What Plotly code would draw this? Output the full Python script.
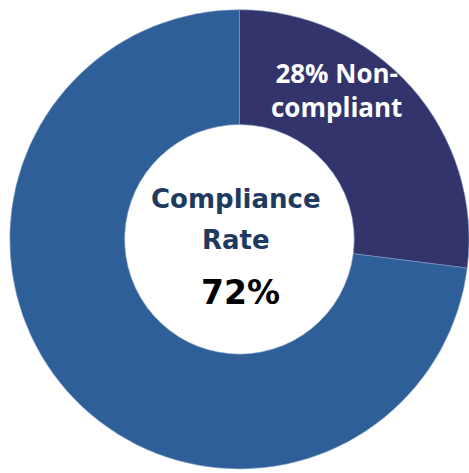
import plotly.graph_objects as go

labels = ["Non-compliant", "Compliant"]
values = [27, 73]
colors = ["#33346b", "#2e5f99"]
rate_label = "72%"
noncompliant_label = "28% Non-<br>compliant"
center_title_lines = ["Compliance", "Rate"]

fig = go.Figure(go.Pie(
    labels=labels,
    values=values,
    hole=0.5,
    sort=False,
    direction="clockwise",
    rotation=0,
    marker=dict(colors=colors, line=dict(color="#7f9cc4", width=0.6)),
    textinfo="none",
    hoverinfo="label+percent",
    showlegend=False,
    domain=dict(x=[0.021, 1.0], y=[0.004, 0.984]),
))

fig.add_annotation(x=336, y=90, xref="x", yref="y", text=noncompliant_label,
                   showarrow=False, font=dict(family="Open Sans", size=26, color="white", weight="bold"),
                   align="center")
for txt, yy, xx in zip(center_title_lines, [199, 240], [236, 236]):
    fig.add_annotation(x=xx, y=yy, xref="x", yref="y", text=txt,
                       showarrow=False, font=dict(family="DejaVu Sans", size=26, color="#1e3a5f", weight="bold"),
                       align="center")
fig.add_annotation(x=240, y=292, xref="x", yref="y", text=rate_label,
                   showarrow=False, font=dict(family="DejaVu Sans", size=33, color="black", weight="bold"),
                   align="center")

fig.update_xaxes(range=[0, 469], visible=False, fixedrange=True)
fig.update_yaxes(range=[473, 0], visible=False, fixedrange=True)
fig.update_layout(
    width=469, height=473,
    margin=dict(l=0, r=0, t=0, b=0),
    paper_bgcolor="white", plot_bgcolor="rgba(0,0,0,0)",
    xaxis=dict(domain=[0, 1]), yaxis=dict(domain=[0, 1]),
)
fig.write_html("out.html", config={"displayModeBar": False},
               post_script="document.body.style.margin='0';document.body.style.overflow='hidden';")
